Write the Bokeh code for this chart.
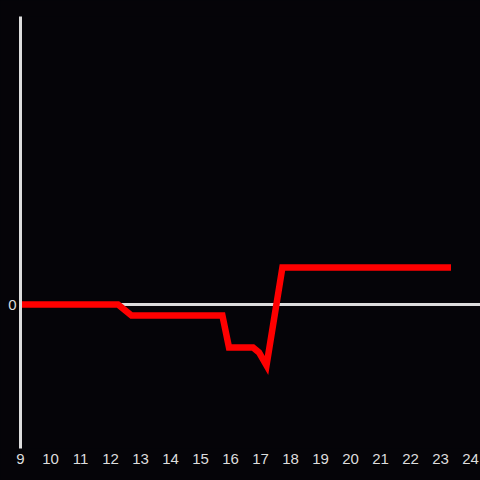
from bokeh.plotting import figure
from bokeh.models import FixedTicker, Span, Range1d
from bokeh.embed import file_html
from bokeh.resources import INLINE

# data
x_vals = [9, 12.25, 12.7, 15.73, 15.95, 16.75, 16.95, 17.2, 17.73, 23.35]
y_vals = [0, 0, -1.1, -1.1, -4.3, -4.3, -4.8, -6.1, 3.7, 3.7]
x_ticks = list(range(9, 25))
y_ticks = [0]

BG = "#050408"
FG = "#dddddd"

p = figure(width=480, height=480, output_backend="svg", toolbar_location=None,
           x_range=Range1d(9, 24.333), y_range=Range1d(-14.4, 28.8),
           min_border_left=20, min_border_right=0, min_border_top=16, min_border_bottom=32)
p.background_fill_color = BG
p.border_fill_color = BG
p.outline_line_color = None
p.xgrid.visible = False
p.ygrid.visible = False

p.xaxis.ticker = FixedTicker(ticks=x_ticks)
p.yaxis.ticker = FixedTicker(ticks=y_ticks)
for ax in (p.xaxis, p.yaxis):
    ax.major_tick_line_color = None
    ax.minor_tick_line_color = None
    ax.major_tick_out = 0
    ax.major_tick_in = 0
    ax.minor_tick_out = 0
    ax.major_label_text_color = FG
    ax.major_label_text_font = "Liberation Sans"
    ax.major_label_text_font_size = "15px"
p.xaxis.axis_line_color = None
p.xaxis.major_label_standoff = 5
p.yaxis.axis_line_color = FG
p.yaxis.axis_line_width = 3
p.yaxis.major_label_standoff = 4

p.add_layout(Span(location=0, dimension="width", line_color=FG, line_width=3, level="underlay"))
p.line(x_vals, y_vals, line_color="#ff0000", line_width=6.5, line_join="miter")

html = file_html(p, INLINE)
html = html.replace("</head>", "<style>html, body { background: #050408; }</style></head>", 1)
open("out.html", "w").write(html)
